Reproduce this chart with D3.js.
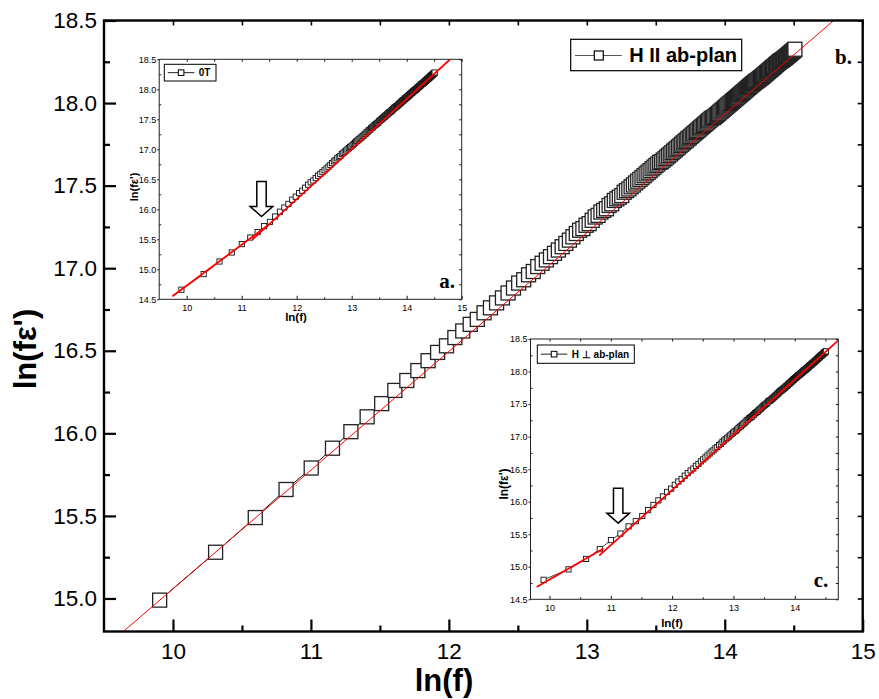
<!DOCTYPE html>
<html>
<head>
<meta charset="utf-8">
<script src="https://cdn.jsdelivr.net/npm/d3@7"></script>
<style>
  body { margin: 0; background: #fff; }
  svg { display: block; }
</style>
</head>
<body>
<svg id="chart" width="879" height="699"></svg>
<script>
// measuring frequencies, kHz (20 kHz .. 2 MHz)
const freqKHz = [
  20,30,40,50,60,70,80,90,100,110,120,130,140,150,160,170,180,190,200,
  210,220,230,240,250,260,270,280,290,300,310,320,330,340,350,360,370,380,390,400,
  410,420,430,440,450,460,470,480,490,500,510,520,530,540,550,560,570,580,590,600,
  610,620,630,640,650,660,670,680,690,700,710,720,730,740,750,760,770,780,790,800,
  810,820,830,840,850,860,870,880,890,900,910,920,930,940,950,960,970,980,990,1000,
  1010,1020,1030,1040,1050,1060,1070,1080,1090,1100,1110,1120,1130,1140,1150,1160,1170,1180,1190,1200,
  1210,1220,1230,1240,1250,1260,1270,1280,1290,1300,1310,1320,1330,1340,1350,1360,1370,1380,1390,1400,
  1410,1420,1430,1440,1450,1460,1470,1480,1490,1500,1510,1520,1530,1540,1550,1560,1570,1580,1590,1600,
  1610,1620,1630,1640,1650,1660,1670,1680,1690,1700,1710,1720,1730,1740,1750,1760,1770,1780,1790,1800,
  1810,1820,1830,1840,1850,1860,1870,1880,1890,1900,1910,1920,1930,1940,1950,1960,1970,1980,1990,2000
];

// ln(f eps') for H || ab-plan (main panel b.)
const lnFEpsB = [
  14.99,15.28,15.49,15.66,15.79,15.91,16.01,16.10,16.18,
  16.26,16.32,16.38,16.44,16.49,16.53,16.58,16.62,16.66,16.69,
  16.73,16.76,16.79,16.82,16.85,16.88,16.91,16.93,16.96,16.98,
  17.01,17.03,17.05,17.07,17.09,17.11,17.13,17.15,17.17,17.19,
  17.21,17.23,17.24,17.26,17.27,17.29,17.31,17.32,17.34,17.35,
  17.36,17.38,17.39,17.41,17.42,17.43,17.44,17.46,17.47,17.48,
  17.493,17.504,17.516,17.527,17.538,17.549,17.560,17.571,17.581,17.591,
  17.602,17.612,17.622,17.631,17.641,17.645,17.655,17.664,17.673,17.682,
  17.691,17.700,17.709,17.717,17.726,17.734,17.743,17.751,17.759,17.767,
  17.775,17.783,17.790,17.798,17.806,17.813,17.821,17.828,17.835,17.843,
  17.850,17.857,17.864,17.871,17.878,17.885,17.892,17.898,17.905,17.911,
  17.913,17.919,17.926,17.932,17.938,17.945,17.951,17.957,17.963,17.969,
  17.975,17.981,17.987,17.993,17.998,18.004,18.010,18.015,18.021,18.026,
  18.032,18.037,18.043,18.048,18.053,18.059,18.064,18.069,18.074,18.080,
  18.085,18.090,18.095,18.100,18.105,18.110,18.115,18.119,18.124,18.129,
  18.132,18.136,18.140,18.144,18.149,18.153,18.157,18.161,18.166,18.170,
  18.175,18.179,18.184,18.188,18.193,18.197,18.201,18.205,18.210,18.214,
  18.218,18.222,18.226,18.231,18.235,18.239,18.243,18.247,18.251,18.255,
  18.257,18.260,18.263,18.267,18.270,18.273,18.277,18.281,18.285,18.288,
  18.292,18.296,18.300,18.303,18.307,18.311,18.314,18.318,18.321,18.326
];

// inset a. : 0T
const lnFEpsA = [
  14.66,14.92,15.13,15.28,15.42,15.53,15.62,15.72,15.79,
  15.88,15.96,16.03,16.09,16.16,16.21,16.27,16.31,16.36,16.41,
  16.45,16.48,16.52,16.56,16.59,16.62,16.65,16.68,16.71,16.74,
  16.77,16.80,16.82,16.85,16.87,16.89,16.92,16.94,16.96,16.98,
  17.00,17.02,17.04,17.05,17.07,17.09,17.11,17.13,17.14,17.16,
  17.17,17.19,17.20,17.22,17.23,17.25,17.26,17.28,17.29,17.31,
  17.32,17.33,17.35,17.36,17.37,17.39,17.40,17.41,17.42,17.43,
  17.44,17.45,17.47,17.48,17.49,17.50,17.51,17.52,17.53,17.54,
  17.55,17.56,17.57,17.58,17.59,17.60,17.61,17.62,17.62,17.63,
  17.64,17.65,17.66,17.67,17.68,17.69,17.70,17.70,17.71,17.72,
  17.72,17.73,17.74,17.75,17.76,17.76,17.77,17.78,17.79,17.80,
  17.80,17.81,17.82,17.82,17.83,17.84,17.85,17.85,17.86,17.86,
  17.87,17.88,17.88,17.89,17.90,17.90,17.91,17.92,17.92,17.93,
  17.94,17.94,17.95,17.95,17.96,17.97,17.97,17.98,17.98,17.99,
  17.99,18.00,18.00,18.01,18.01,18.02,18.03,18.03,18.04,18.04,
  18.05,18.05,18.06,18.06,18.07,18.08,18.08,18.09,18.09,18.09,
  18.10,18.10,18.11,18.11,18.12,18.12,18.13,18.13,18.14,18.14,
  18.15,18.15,18.16,18.16,18.17,18.17,18.18,18.18,18.18,18.19,
  18.19,18.20,18.20,18.21,18.21,18.22,18.22,18.23,18.23,18.23,
  18.24,18.24,18.25,18.25,18.26,18.26,18.26,18.27,18.27,18.28
];

// inset c. : H perpendicular to ab-plan
const lnFEpsC = [
  14.80,14.96,15.12,15.27,15.41,15.51,15.62,15.70,15.78,
  15.87,15.95,16.02,16.08,16.15,16.20,16.26,16.31,16.35,16.40,
  16.44,16.48,16.51,16.55,16.58,16.62,16.65,16.68,16.71,16.74,
  16.77,16.79,16.82,16.84,16.87,16.89,16.92,16.94,16.96,16.98,
  17.00,17.02,17.04,17.06,17.08,17.09,17.11,17.13,17.15,17.16,
  17.18,17.20,17.21,17.23,17.25,17.26,17.28,17.29,17.30,17.31,
  17.33,17.34,17.36,17.37,17.38,17.39,17.41,17.42,17.43,17.44,
  17.46,17.47,17.48,17.49,17.50,17.51,17.52,17.54,17.55,17.55,
  17.56,17.57,17.58,17.59,17.60,17.61,17.62,17.63,17.64,17.65,
  17.66,17.67,17.68,17.69,17.70,17.71,17.71,17.72,17.73,17.74,
  17.74,17.75,17.76,17.77,17.78,17.78,17.79,17.80,17.81,17.82,
  17.82,17.83,17.84,17.85,17.85,17.86,17.87,17.88,17.88,17.89,
  17.90,17.90,17.91,17.92,17.92,17.93,17.94,17.94,17.95,17.95,
  17.96,17.97,17.97,17.98,17.98,17.99,18.00,18.00,18.01,18.02,
  18.02,18.02,18.03,18.03,18.04,18.05,18.05,18.06,18.06,18.07,
  18.07,18.08,18.09,18.09,18.10,18.10,18.11,18.11,18.12,18.12,
  18.13,18.13,18.14,18.14,18.15,18.15,18.16,18.16,18.17,18.17,
  18.18,18.18,18.19,18.19,18.20,18.20,18.21,18.21,18.22,18.22,
  18.23,18.23,18.24,18.24,18.25,18.25,18.25,18.26,18.26,18.27,
  18.27,18.28,18.28,18.29,18.29,18.29,18.30,18.30,18.31,18.31
];

// linear fits (red), endpoints [ln f, ln f eps']
const fitB = [[[9.64, 14.80], [14.79, 18.50]]];
const fitA = [[[9.74, 14.55], [11.50, 15.75]], [[11.20, 15.50], [14.79, 18.50]]];
const fitC = [[[9.79, 14.69], [10.88, 15.28]], [[10.81, 15.17], [14.71, 18.48]]];

const mainXTicks = [10, 11, 12, 13, 14, 15];
const mainXMinor = [10.5, 11.5, 12.5, 13.5, 14.5];
const mainYTicks = [15.0, 15.5, 16.0, 16.5, 17.0, 17.5, 18.0, 18.5];
const mainYMinor = [15.25, 15.75, 16.25, 16.75, 17.25, 17.75, 18.25];
const insetXTicks = [10, 11, 12, 13, 14, 15];
const insetXMinor = [10.5, 11.5, 12.5, 13.5, 14.5];
const insetYTicks = [14.5, 15.0, 15.5, 16.0, 16.5, 17.0, 17.5, 18.0, 18.5];
const insetYMinor = [14.75, 15.25, 15.75, 16.25, 16.75, 17.25, 17.75, 18.25];

const sans = "Arial, 'Liberation Sans', sans-serif";
const serif = "'Times New Roman', 'Liberation Serif', serif";
const lnf = f => Math.log(f * 1000);

const svg = d3.select("#chart").attr("font-family", sans);

// ---------- main panel ----------
const M = {left: 104, right: 862.7, top: 20.5, bottom: 631.5};
const x = d3.scaleLinear().domain([9.5, 15]).range([M.left, M.right]);
const y = d3.scaleLinear().domain([14.8, 18.5]).range([M.bottom, M.top]);

const defs = svg.append("defs");
defs.append("clipPath").attr("id", "clipMain").append("rect")
    .attr("x", M.left).attr("y", M.top)
    .attr("width", M.right - M.left).attr("height", M.bottom - M.top);

const ptsB = freqKHz.map((f, i) => [lnf(f), lnFEpsB[i]]);

svg.append("path").datum(ptsB)
   .attr("d", d3.line().x(d => x(d[0])).y(d => y(d[1])))
   .attr("fill", "none").attr("stroke", "#111").attr("stroke-width", 1);

svg.append("g").selectAll("rect").data(ptsB).join("rect")
   .attr("x", d => x(d[0]) - 7).attr("y", d => y(d[1]) - 7)
   .attr("width", 14).attr("height", 14)
   .attr("fill", "#fff").attr("stroke", "#222").attr("stroke-width", 1.3);

svg.append("g").attr("clip-path", "url(#clipMain)")
   .selectAll("path").data(fitB).join("path")
   .attr("d", d3.line().x(d => x(d[0])).y(d => y(d[1])))
   .attr("stroke", "#ff0000").attr("stroke-width", 1).attr("fill", "none");

function styleAxis(g, sw, fs) {
  g.select(".domain").remove();
  g.selectAll(".tick line").attr("stroke", "#000").attr("stroke-width", sw);
  g.selectAll(".tick text").attr("fill", "#000").attr("font-size", fs)
   .attr("font-family", sans);
}

svg.append("g").attr("transform", `translate(0,${M.bottom})`)
   .call(d3.axisBottom(x).tickValues(mainXTicks).tickSize(-12).tickPadding(12).tickFormat(d3.format("d")))
   .call(g => styleAxis(g, 2.2, 22.5));
svg.append("g").attr("transform", `translate(0,${M.bottom})`)
   .call(d3.axisBottom(x).tickValues(mainXMinor).tickSize(-6).tickFormat(""))
   .call(g => styleAxis(g, 2.2, 0));
svg.append("g").attr("transform", `translate(${M.left},0)`)
   .call(d3.axisLeft(y).tickValues(mainYTicks).tickSize(-12).tickPadding(7).tickFormat(d3.format(".1f")))
   .call(g => styleAxis(g, 2.2, 22.5));
svg.append("g").attr("transform", `translate(${M.left},0)`)
   .call(d3.axisLeft(y).tickValues(mainYMinor).tickSize(-6).tickFormat(""))
   .call(g => styleAxis(g, 2.2, 0));
svg.append("g").attr("transform", `translate(0,${M.top})`)
   .call(d3.axisTop(x).tickValues(mainXTicks.concat(mainXMinor)).tickSize(-5).tickFormat(""))
   .call(g => styleAxis(g, 1.6, 0));
svg.append("g").attr("transform", `translate(${M.right},0)`)
   .call(d3.axisRight(y).tickValues(mainYTicks.concat(mainYMinor)).tickSize(-5).tickFormat(""))
   .call(g => styleAxis(g, 1.6, 0));

svg.append("rect")
   .attr("x", M.left).attr("y", M.top)
   .attr("width", M.right - M.left).attr("height", M.bottom - M.top)
   .attr("fill", "none").attr("stroke", "#000").attr("stroke-width", 2.4);

svg.append("text").attr("x", 444).attr("y", 691)
   .attr("text-anchor", "middle").attr("font-size", 31).attr("font-weight", "bold")
   .text("ln(f)");
svg.append("text").attr("transform", "translate(35.5,349) rotate(-90)")
   .attr("text-anchor", "middle").attr("font-size", 31).attr("font-weight", "bold")
   .text("ln(fε')");

// legend of the main panel
const lg = svg.append("g");
lg.append("rect").attr("x", 570.7).attr("y", 39.3).attr("width", 171).attr("height", 31.4)
  .attr("fill", "#fff").attr("stroke", "#000").attr("stroke-width", 1.2);
lg.append("line").attr("x1", 575).attr("x2", 621.7).attr("y1", 55.5).attr("y2", 55.5)
  .attr("stroke", "#555").attr("stroke-width", 1.2);
lg.append("rect").attr("x", 594.3).attr("y", 51).attr("width", 9).attr("height", 9)
  .attr("fill", "#fff").attr("stroke", "#000").attr("stroke-width", 1.2);
lg.append("text").attr("x", 629.3).attr("y", 62).attr("font-size", 20).attr("font-weight", "bold")
  .text("H II ab-plan");

svg.append("text").attr("x", 835).attr("y", 64)
   .attr("font-family", serif).attr("font-size", 21).attr("font-weight", "bold")
   .text("b.");

// ---------- insets ----------
function drawInset(o) {
  const ix = d3.scaleLinear().domain(o.xDomain).range([o.left, o.right]);
  const iy = d3.scaleLinear().domain([14.5, 18.5]).range([o.bottom, o.top]);
  const g = svg.append("g");

  g.append("rect").attr("x", o.left).attr("y", o.top)
   .attr("width", o.right - o.left).attr("height", o.bottom - o.top)
   .attr("fill", "#fff");

  const clipId = "clip" + o.id;
  defs.append("clipPath").attr("id", clipId).append("rect")
      .attr("x", o.left).attr("y", o.top)
      .attr("width", o.right - o.left).attr("height", o.bottom - o.top);

  const pts = freqKHz.map((f, i) => [lnf(f), o.values[i]]);
  g.append("path").datum(pts)
   .attr("d", d3.line().x(d => ix(d[0])).y(d => iy(d[1])))
   .attr("fill", "none").attr("stroke", "#111").attr("stroke-width", 0.8);
  g.append("g").selectAll("rect").data(pts).join("rect")
   .attr("x", d => ix(d[0]) - 2.6).attr("y", d => iy(d[1]) - 2.6)
   .attr("width", 5.2).attr("height", 5.2)
   .attr("fill", "#fff").attr("stroke", "#111").attr("stroke-width", 0.9);

  g.append("g").attr("clip-path", `url(#${clipId})`)
   .selectAll("path").data(o.fits).join("path")
   .attr("d", d3.line().x(d => ix(d[0])).y(d => iy(d[1])))
   .attr("stroke", "#ff0000").attr("stroke-width", 1.8).attr("fill", "none");

  g.append("g").attr("transform", `translate(0,${o.bottom})`)
   .call(d3.axisBottom(ix).tickValues(insetXTicks.filter(v => v <= o.xDomain[1]))
         .tickSize(-3.5).tickPadding(5).tickFormat(d3.format("d")))
   .call(a => styleAxis(a, 0.9, 9));
  g.append("g").attr("transform", `translate(0,${o.bottom})`)
   .call(d3.axisBottom(ix).tickValues(insetXMinor).tickSize(-2).tickFormat(""))
   .call(a => styleAxis(a, 0.9, 0));
  g.append("g").attr("transform", `translate(${o.left},0)`)
   .call(d3.axisLeft(iy).tickValues(insetYTicks).tickSize(2).tickPadding(1).tickFormat(d3.format(".1f")))
   .call(a => styleAxis(a, 0.9, 9));
  g.append("g").attr("transform", `translate(${o.left},0)`)
   .call(d3.axisLeft(iy).tickValues(insetYMinor).tickSize(-2).tickFormat(""))
   .call(a => styleAxis(a, 0.9, 0));
  g.append("g").attr("transform", `translate(0,${o.top})`)
   .call(d3.axisTop(ix).tickValues(insetXTicks.concat(insetXMinor).filter(v => v <= o.xDomain[1]))
         .tickSize(-2.5).tickFormat(""))
   .call(a => styleAxis(a, 0.9, 0));
  g.append("g").attr("transform", `translate(${o.right},0)`)
   .call(d3.axisRight(iy).tickValues(insetYTicks.concat(insetYMinor)).tickSize(-2.5).tickFormat(""))
   .call(a => styleAxis(a, 0.9, 0));

  g.append("rect").attr("x", o.left).attr("y", o.top)
   .attr("width", o.right - o.left).attr("height", o.bottom - o.top)
   .attr("fill", "none").attr("stroke", "#222").attr("stroke-width", 1);

  g.append("text").attr("x", o.xTitle[0]).attr("y", o.xTitle[1])
   .attr("text-anchor", "middle").attr("font-size", 11.5).attr("font-weight", "bold")
   .text("ln(f)");
  g.append("text").attr("transform", `translate(${o.yTitle[0]},${o.yTitle[1]}) rotate(-90)`)
   .attr("text-anchor", "middle").attr("font-size", o.yTitleSize).attr("font-weight", "bold")
   .text("ln(fε')");

  // legend box
  const L = o.legend;
  g.append("rect").attr("x", L.x).attr("y", L.y).attr("width", L.w).attr("height", L.h)
   .attr("fill", "#fff").attr("stroke", "#000").attr("stroke-width", 1);
  g.append("line").attr("x1", L.x + 3.5).attr("x2", L.x + 30).attr("y1", L.y + L.h / 2).attr("y2", L.y + L.h / 2)
   .attr("stroke", "#222").attr("stroke-width", 1);
  g.append("rect").attr("x", L.x + 14).attr("y", L.y + L.h / 2 - 2.8).attr("width", 5.6).attr("height", 5.6)
   .attr("fill", "#fff").attr("stroke", "#000").attr("stroke-width", 1);
  g.append("text").attr("x", L.x + 34.5).attr("y", L.y + L.h / 2 + 3.6)
   .attr("font-size", 10).attr("font-weight", "bold").text(L.label);

  // hollow arrow pointing at the slope change
  const tx = ix(o.arrow[0]), ty = iy(o.arrow[1]);
  const arrowPts = [[tx - 4.7, ty - 35], [tx + 4.7, ty - 35], [tx + 4.7, ty - 10], [tx + 11.3, ty - 10],
                    [tx, ty], [tx - 11.3, ty - 10], [tx - 4.7, ty - 10]];
  g.append("path").attr("d", "M" + arrowPts.join("L") + "Z")
   .attr("fill", "#fff").attr("stroke", "#000").attr("stroke-width", 1.5);

  g.append("text").attr("x", o.letterPos[0]).attr("y", o.letterPos[1])
   .attr("text-anchor", "end").attr("font-family", serif)
   .attr("font-size", 21).attr("font-weight", "bold").text(o.letter);
}

drawInset({
  id: "A", left: 159.2, right: 461.7, top: 59.3, bottom: 299.3, xDomain: [9.5, 15],
  values: lnFEpsA, fits: fitA, arrow: [11.36, 15.88],
  xTitle: [296, 321], yTitle: [138, 187], yTitleSize: 11,
  legend: {x: 164.3, y: 64.3, w: 51.7, h: 16.7, label: "0T"},
  letter: "a.", letterPos: [455, 288]
});

drawInset({
  id: "C", left: 530.5, right: 838.3, top: 339, bottom: 599.3, xDomain: [9.69, 14.71],
  values: lnFEpsC, fits: fitC, arrow: [11.12, 15.67],
  xTitle: [672, 627], yTitle: [508, 484], yTitleSize: 12,
  legend: {x: 537.3, y: 345, w: 97, h: 18.3, label: "H ⊥ ab-plan"},
  letter: "c.", letterPos: [828.3, 587]
});
</script>
</body>
</html>
